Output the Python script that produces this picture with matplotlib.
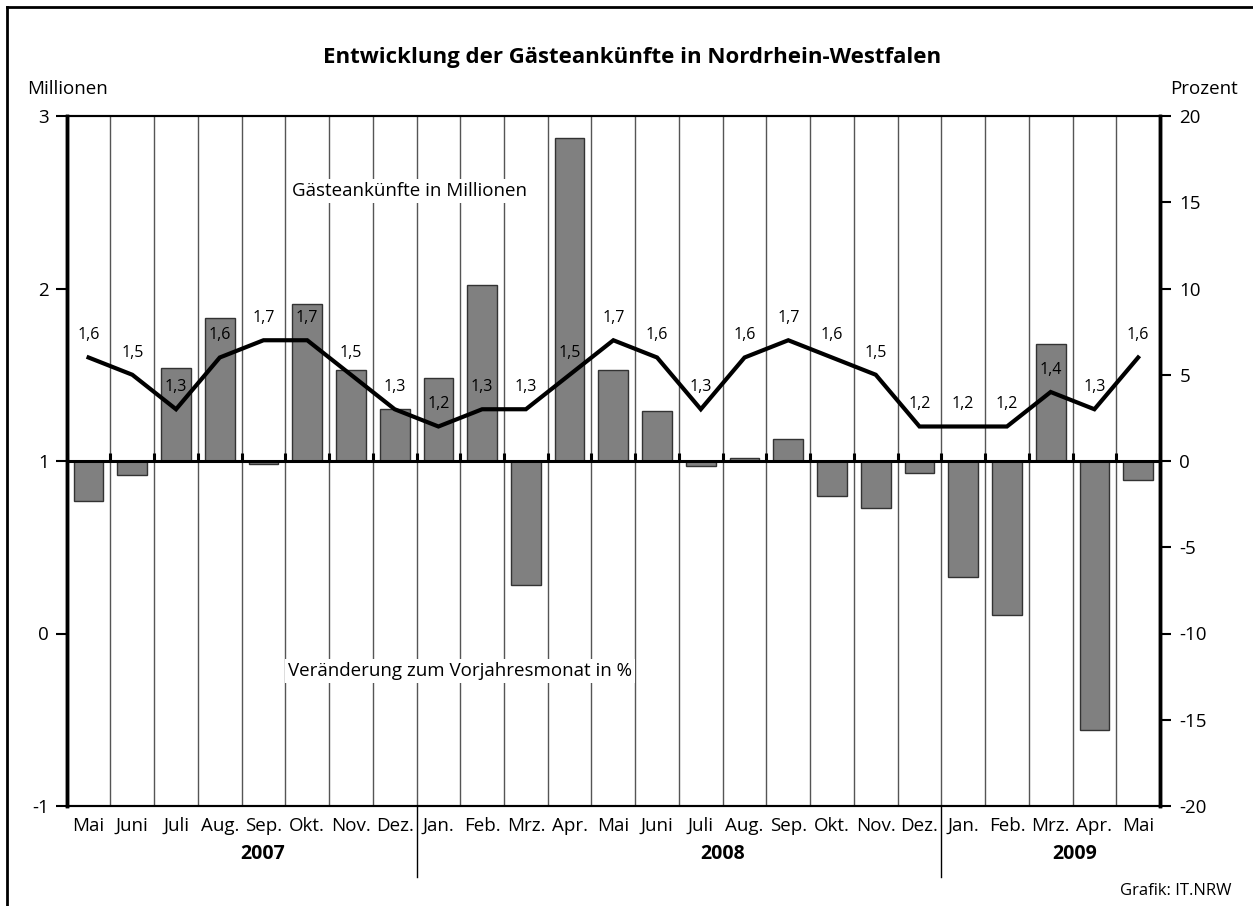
import matplotlib.pyplot as plt
from matplotlib.lines import Line2D

plt.rcParams["font.family"] = ["Open Sans", "DejaVu Sans"]
plt.rcParams["axes.unicode_minus"] = False

months = ["Mai", "Juni", "Juli", "Aug.", "Sep.", "Okt.", "Nov.", "Dez.",
          "Jan.", "Feb.", "Mrz.", "Apr.", "Mai", "Juni", "Juli", "Aug.",
          "Sep.", "Okt.", "Nov.", "Dez.", "Jan.", "Feb.", "Mrz.", "Apr.", "Mai"]
# Gästeankünfte in Millionen
arrivals = [1.6, 1.5, 1.3, 1.6, 1.7, 1.7, 1.5, 1.3, 1.2, 1.3, 1.3, 1.5, 1.7,
            1.6, 1.3, 1.6, 1.7, 1.6, 1.5, 1.2, 1.2, 1.2, 1.4, 1.3, 1.6]
# Veränderung zum Vorjahresmonat in %
change = [-2.3, -0.8, 5.4, 8.3, -0.2, 9.1, 5.3, 3.0, 4.8, 10.2, -7.2, 18.7,
          5.3, 2.9, -0.3, 0.2, 1.3, -2.0, -2.7, -0.7, -6.7, -8.9, 6.8, -15.6, -1.1]
years = ["2007", "2008", "2009"]
year_pos = [3.97, 14.5, 22.55]
year_breaks = [7.5, 19.5]

n = len(months)
x = list(range(n))
fs = 13.5

fig = plt.figure(figsize=(12.53, 9.06), dpi=100)
ax = fig.add_axes([66.7 / 1253, 1 - 806 / 906, (1160 - 66.7) / 1253, (806 - 116) / 906])
ax2 = ax.twinx()

# bars on percent axis
ax2.bar(x, change, width=0.68, color="#808080", edgecolor="#333333", linewidth=1, zorder=3)
ax2.set_ylim(-20, 20)
ax2.set_yticks([20, 15, 10, 5, 0, -5, -10, -15, -20])
ax2.axhline(0, color="black", lw=2.2, zorder=4)
ax2.vlines([i + 0.5 for i in range(-1, n)], 0, 0.45, color="black", lw=2.2, zorder=4)

# category boundaries
for b in range(n - 1):
    ax2.axvline(b + 0.5, color="#555555", lw=1, zorder=1)

# line on millions axis
ax.set_zorder(ax2.get_zorder() + 1)
ax.patch.set_visible(False)
ax.plot(x, arrivals, color="black", lw=3, zorder=5, solid_joinstyle="miter")
for xi, v in zip(x, arrivals):
    ax.annotate(f"{v:.1f}".replace(".", ","), (xi, v), xytext=(0, 16),
                textcoords="offset points", ha="center", va="center", fontsize=11.5)
ax.set_ylim(-1, 3)
ax.set_yticks([3, 2, 1, 0, -1])
ax.set_xlim(-0.5, n - 0.5)
ax.set_xticks(x)
ax.set_xticklabels(months, fontsize=fs)
ax.tick_params(axis="x", length=0, pad=8)
ax.tick_params(axis="y", length=8, width=1.5, labelsize=fs, pad=5)
ax2.tick_params(axis="y", length=8, width=1.5, labelsize=fs, pad=6)

for a in (ax, ax2):
    for s in a.spines.values():
        s.set_linewidth(1.5)
    a.spines["left"].set_linewidth(2.5)
    a.spines["right"].set_linewidth(2.5)

ax.text(7.33, 2.565, "Gästeankünfte in Millionen", ha="center", va="center", fontsize=fs,
        zorder=6, bbox=dict(facecolor="white", edgecolor="none", pad=2))
ax.text(8.5, -0.217, "Veränderung zum Vorjahresmonat in %", ha="center", va="center",
        fontsize=fs, zorder=6, bbox=dict(facecolor="white", edgecolor="none", pad=2))

# year labels and separators
tr = ax.get_xaxis_transform()
for yl, xp in zip(years, year_pos):
    ax.text(xp, -0.069, yl, transform=tr, ha="center", va="center", fontsize=14,
            fontweight="bold")
for b in year_breaks:
    ax.add_line(Line2D([b, b], [0, -0.103], transform=tr, color="black", lw=1,
                       clip_on=False))

fig.text(632 / 1253, 1 - 57 / 906, "Entwicklung der Gästeankünfte in Nordrhein-Westfalen",
         ha="center", va="center", fontsize=16, fontweight="bold")
fig.text(27 / 1253, 1 - 89 / 906, "Millionen", ha="left", va="center", fontsize=fs)
fig.text(1170 / 1253, 1 - 89 / 906, "Prozent", ha="left", va="center", fontsize=fs)
fig.text(1231 / 1253, 1 - 891 / 906, "Grafik: IT.NRW", ha="right", va="center", fontsize=12)

# outer frame (left and top edges)
fig.add_artist(Line2D([6.5 / 1253, 6.5 / 1253], [0, 1 - 7 / 906], transform=fig.transFigure,
                      color="black", lw=2))
fig.add_artist(Line2D([6.5 / 1253, 1], [1 - 7 / 906, 1 - 7 / 906], transform=fig.transFigure,
                      color="black", lw=2))

fig.savefig("out.png", dpi=100)
